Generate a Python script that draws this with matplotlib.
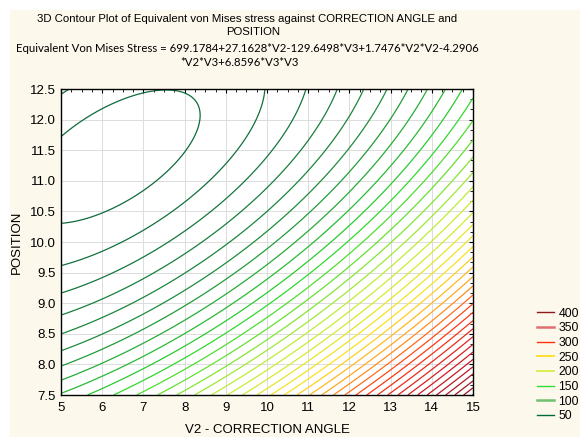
import numpy as np
import matplotlib
matplotlib.use("Agg")
import matplotlib.pyplot as plt
from matplotlib.colors import LinearSegmentedColormap
from matplotlib.lines import Line2D
from matplotlib.ticker import AutoMinorLocator, MultipleLocator, FormatStrFormatter

# fitted surface, coefficients read from the chart subtitle
# order: const, V2, V3, V2*V2, V2*V3, V3*V3
coef = [699.1784, 27.1628, -129.6498, 1.7476, -4.2906, 6.8596]

v2_range = [5, 15]
v3_range = [7.5, 12.5]
levels = list(range(50, 440, 10))

legend_vals = [400, 350, 300, 250, 200, 150, 100, 50]
legend_cols = ['#8b1a1a', '#e07070', '#ff3010', '#ffe030',
               '#d8f050', '#30e030', '#70c070', '#006b3a']
legend_lw = [1.0, 1.8, 1.0, 1.4, 1.4, 1.0, 1.8, 1.0]

cream = '#fdf8ec'

plt.rcParams['font.family'] = ['Liberation Sans', 'DejaVu Sans']

fig = plt.figure(figsize=(5.8, 4.37), dpi=100)
fig.patch.set_facecolor('white')
bg = plt.Rectangle((10 / 580, 0), 1, 1 - 10 / 437, transform=fig.transFigure,
                   color=cream, zorder=-10)
fig.patches.append(bg)

ax = fig.add_axes([0.1052, 0.0961, 0.7103, 0.7002])
ax.set_facecolor('white')

x = np.linspace(v2_range[0], v2_range[1], 300)
y = np.linspace(v3_range[0], v3_range[1], 300)
X, Y = np.meshgrid(x, y)
c0, c1, c2, c3, c4, c5 = coef
Z = c0 + c1 * X + c2 * Y + c3 * X * X + c4 * X * Y + c5 * Y * Y

cmap = LinearSegmentedColormap.from_list('stat', [
    (0.0, '#0f6a3c'),
    (0.13, '#1e8c3c'),
    (0.26, '#2ed82e'),
    (0.40, '#c0ee36'),
    (0.53, '#ffe020'),
    (0.62, '#ff9a20'),
    (0.70, '#ff3a14'),
    (0.84, '#d01c24'),
    (1.0, '#901420'),
])
ax.contour(X, Y, Z, levels=levels, cmap=cmap, vmin=50, vmax=430,
           linewidths=0.9)

ax.set_xlim(v2_range)
ax.set_ylim(v3_range)
ax.xaxis.set_major_locator(MultipleLocator(1))
ax.yaxis.set_major_locator(MultipleLocator(0.5))
ax.xaxis.set_minor_locator(AutoMinorLocator(4))
ax.yaxis.set_minor_locator(AutoMinorLocator(3))
ax.yaxis.set_major_formatter(FormatStrFormatter('%.1f'))
ax.grid(True, which='major', color='#dcdcdc', linewidth=0.7)
ax.tick_params(which='both', direction='in', top=True, right=True,
               bottom=False, left=False, labelsize=9.5, colors='black',
               length=3)
ax.tick_params(axis='x', pad=5)
ax.tick_params(axis='y', pad=4)
ax.tick_params(which='minor', length=2)
for s in ax.spines.values():
    s.set_linewidth(1.0)

ax.set_xlabel('V2 - CORRECTION ANGLE', fontsize=9.5, labelpad=7)
ax.set_ylabel('POSITION', fontsize=9.5, labelpad=5)

fig.text(247 / 580, 1 - 19 / 437,
         '3D Contour Plot of Equivalent von Mises stress against CORRECTION ANGLE and',
         ha='center', va='center', fontsize=8.2)
fig.text(253 / 580, 1 - 32 / 437, 'POSITION', ha='center', va='center',
         fontsize=8.2)
fig.text(247 / 580, 1 - 48 / 437,
         'Equivalent Von Mises Stress = 699.1784+27.1628*V2-129.6498*V3+1.7476*V2*V2-4.2906',
         ha='center', va='center', fontsize=8.2, family=['Lato', 'DejaVu Sans'])
fig.text(240 / 580, 1 - 63 / 437, '*V2*V3+6.8596*V3*V3', ha='center',
         va='center', fontsize=8.2, family=['Lato', 'DejaVu Sans'])

handles = [Line2D([], [], color=c, lw=w) for c, w in zip(legend_cols, legend_lw)]
leg = fig.legend(handles, [str(v) for v in legend_vals],
                 loc='lower left', bbox_to_anchor=(528 / 580, 1 - 431 / 437),
                 frameon=False, fontsize=8.8, handlelength=1.45,
                 handletextpad=0.35, labelspacing=0.22, borderpad=0.2)

fig.savefig('out.png', dpi=100)
